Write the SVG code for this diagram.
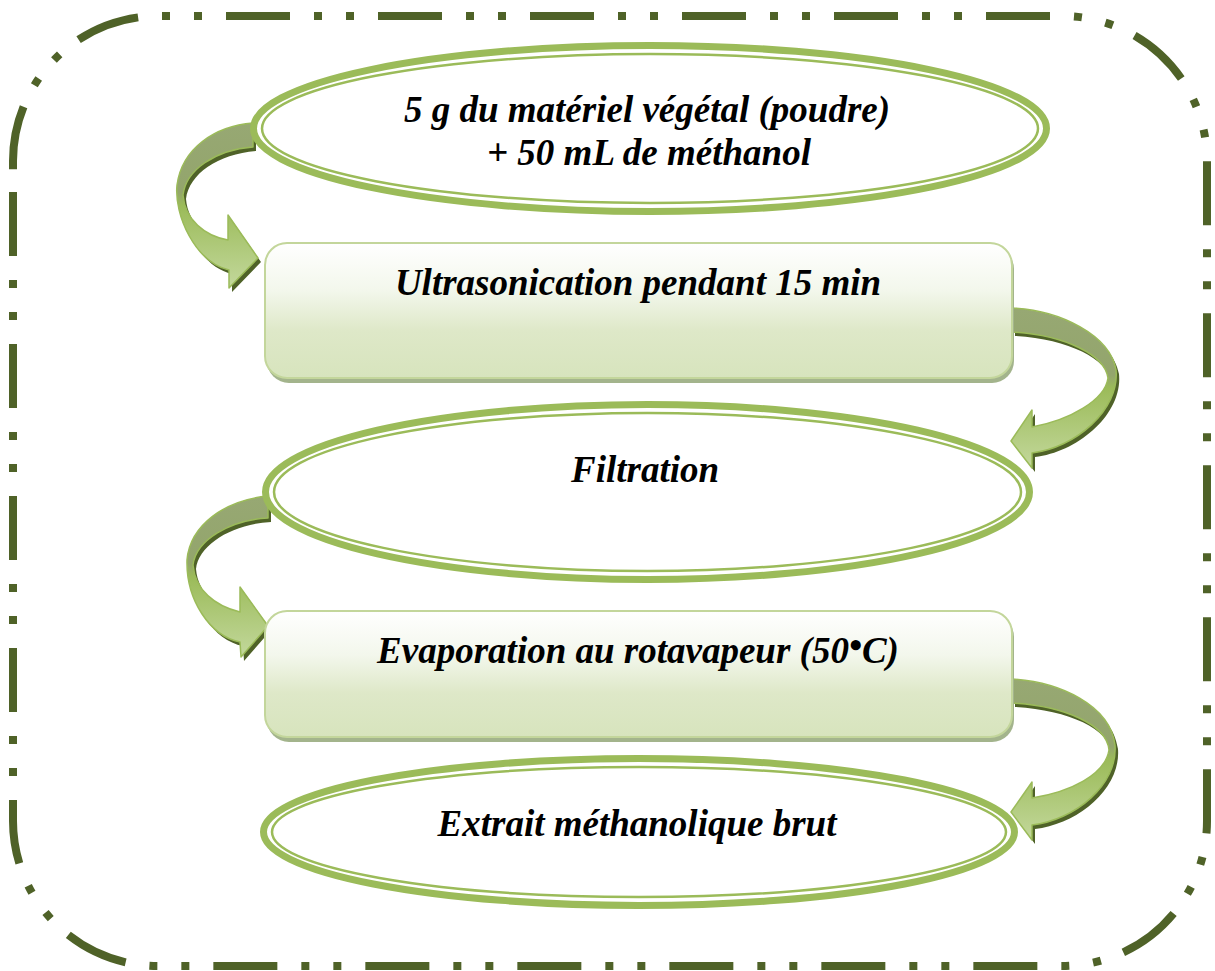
<svg xmlns="http://www.w3.org/2000/svg" width="1215" height="971" viewBox="0 0 1215 971">
<defs>
<style>
.border{fill:none;stroke:#4F6228;stroke-width:8;}
.bA{stroke-dasharray:64 24 8 24 8 24;}
.bB{stroke-dasharray:8 24 8 24 64 24;stroke-dashoffset:128;}
.eo{fill:#fff;stroke:#9BBB59;stroke-width:7;}
.ei{fill:none;stroke:#9BBB59;stroke-width:2.5;}
.box{fill:url(#boxg);stroke:#C3D69B;stroke-width:2;}
.boxsh{fill:#A3B48C;}
.arr{fill:url(#arrg);stroke:#9BBB59;stroke-width:1.5;stroke-linejoin:round;}
.arrsh{fill:#4F6228;}
.t{font-family:"Liberation Serif","Times New Roman",serif;font-weight:bold;font-style:italic;font-size:37px;fill:#000;text-anchor:middle;}
</style>
<linearGradient id="boxg" x1="0" y1="0" x2="0" y2="1">
<stop offset="0" stop-color="#FFFFFF"/>
<stop offset="0.35" stop-color="#F3F7EC"/>
<stop offset="0.65" stop-color="#DEE8C8"/>
<stop offset="1" stop-color="#D7E4BD"/>
</linearGradient>
<linearGradient id="arrg" x1="0" y1="0" x2="0" y2="1">
<stop offset="0" stop-color="#97A873"/>
<stop offset="0.42" stop-color="#93A56C"/>
<stop offset="0.5" stop-color="#9BBB59"/>
<stop offset="1" stop-color="#C3D89C"/>
</linearGradient>
</defs>

<g id="frame">
<path class="border bA" d="M 226 16 H 1062 A 145 145 0 0 1 1207 161 V 821 A 145 145 0 0 1 1062 966 H 158 A 145 145 0 0 1 13 821 V 182"/>
<path class="border bB" d="M 226 16 H 158 A 145 145 0 0 0 13 161 V 182"/>
</g>

<g id="connectors">
<g id="arrow1">
<path class="arrsh" transform="translate(3,4)" d="M 253 123 C 215 126, 182 148, 177 185 C 174 215, 195 262, 229 270 L 229 288 L 258 258 L 228 215 L 228 240 C 205 236, 185 220, 183 195 C 186 170, 215 150, 253 147 Z"/>
<path class="arr" d="M 253 123 C 215 126, 182 148, 177 185 C 174 215, 195 262, 229 270 L 229 288 L 258 258 L 228 215 L 228 240 C 205 236, 185 220, 183 195 C 186 170, 215 150, 253 147 Z"/>
</g>
<g id="arrow2">
<path class="arrsh" transform="translate(3,4)" d="M 1012 308 C 1060 310, 1110 335, 1116 370 C 1120 410, 1075 448, 1032 453 L 1032 468 L 1011 441 L 1032 410 L 1032 427 C 1070 420, 1105 400, 1108 378 C 1105 355, 1065 335, 1012 332 Z"/>
<path class="arr" d="M 1012 308 C 1060 310, 1110 335, 1116 370 C 1120 410, 1075 448, 1032 453 L 1032 468 L 1011 441 L 1032 410 L 1032 427 C 1070 420, 1105 400, 1108 378 C 1105 355, 1065 335, 1012 332 Z"/>
</g>
<g id="arrow3">
<path class="arrsh" transform="translate(3,4)" d="M 268 496 C 225 500, 190 525, 187 560 C 186 600, 210 636, 240 642 L 241 657 L 268 626 L 240 587 L 240 612 C 215 606, 195 590, 193 565 C 196 540, 230 520, 268 518 Z"/>
<path class="arr" d="M 268 496 C 225 500, 190 525, 187 560 C 186 600, 210 636, 240 642 L 241 657 L 268 626 L 240 587 L 240 612 C 215 606, 195 590, 193 565 C 196 540, 230 520, 268 518 Z"/>
</g>
<g id="arrow4">
<path class="arrsh" transform="translate(3,4)" d="M 1012 679 C 1060 682, 1110 705, 1115 745 C 1118 785, 1075 820, 1032 825 L 1032 840 L 1011 812 L 1032 782 L 1032 798 C 1070 792, 1105 775, 1109 750 C 1107 725, 1065 706, 1012 703 Z"/>
<path class="arr" d="M 1012 679 C 1060 682, 1110 705, 1115 745 C 1118 785, 1075 820, 1032 825 L 1032 840 L 1011 812 L 1032 782 L 1032 798 C 1070 792, 1105 775, 1109 750 C 1107 725, 1065 706, 1012 703 Z"/>
</g>
</g>

<g id="node1">
<ellipse class="eo" cx="650" cy="128.5" rx="396.5" ry="83"/>
<ellipse class="ei" cx="650" cy="128.5" rx="388" ry="74.5"/>
<text class="t" x="647" y="122">5 g du matériel végétal (poudre)</text>
<text class="t" x="649" y="165">+ 50 mL de méthanol</text>
</g>

<g id="node2">
<rect class="boxsh" x="267" y="247" width="747" height="136" rx="22"/>
<rect class="box" x="265" y="243" width="747" height="135" rx="22"/>
<text class="t" x="638" y="295">Ultrasonication pendant 15 min</text>
</g>

<g id="node3">
<ellipse class="eo" cx="647.5" cy="492" rx="382" ry="87.5"/>
<ellipse class="ei" cx="647.5" cy="492" rx="373.5" ry="79"/>
<text class="t" x="645" y="482">Filtration</text>
</g>

<g id="node4">
<rect class="boxsh" x="267" y="615" width="747" height="127" rx="22"/>
<rect class="box" x="265" y="611" width="747" height="126" rx="22"/>
<text class="t" x="638" y="663">Evaporation au rotavapeur (50<tspan dy="-5">•</tspan><tspan dy="5">C)</tspan></text>
</g>

<g id="node5">
<ellipse class="eo" cx="639" cy="832" rx="375.5" ry="73.5"/>
<ellipse class="ei" cx="639" cy="832" rx="367" ry="65"/>
<text class="t" x="637" y="836">Extrait méthanolique brut</text>
</g>
</svg>
